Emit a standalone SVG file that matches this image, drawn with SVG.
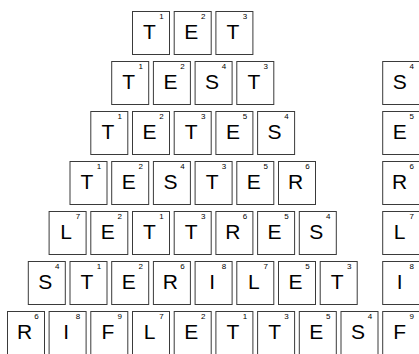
<svg xmlns="http://www.w3.org/2000/svg" width="419" height="354" viewBox="0 0 419 354">
<style>
.t{fill:#fff;stroke:#3a3a3a;stroke-width:1}
.l{font-family:"Liberation Sans",Arial,sans-serif;font-size:21px;fill:#000;text-anchor:middle}
.n{font-family:"Liberation Sans",Arial,sans-serif;font-size:8px;fill:#000;text-anchor:middle}
</style>
<defs>
<rect id="tile" class="t" x="0.5" y="0.5" width="37" height="43"/>
</defs>
<rect width="419" height="354" fill="#fff"/>
<g id="row1">
<use href="#tile" x="132" y="11"/><text class="l" x="149.5" y="39">T</text><text class="n" x="161.5" y="19">1</text>
<use href="#tile" x="173.7" y="11"/><text class="l" x="191.2" y="39">E</text><text class="n" x="203.2" y="19">2</text>
<use href="#tile" x="215.4" y="11"/><text class="l" x="232.9" y="39">T</text><text class="n" x="244.9" y="19">3</text>
</g>
<g id="row2">
<use href="#tile" x="111.2" y="61"/><text class="l" x="128.7" y="89">T</text><text class="n" x="140.7" y="69">1</text>
<use href="#tile" x="152.9" y="61"/><text class="l" x="170.4" y="89">E</text><text class="n" x="182.4" y="69">2</text>
<use href="#tile" x="194.6" y="61"/><text class="l" x="212.1" y="89">S</text><text class="n" x="224.1" y="69">4</text>
<use href="#tile" x="236.3" y="61"/><text class="l" x="253.8" y="89">T</text><text class="n" x="265.8" y="69">3</text>
</g>
<g id="row3">
<use href="#tile" x="90.3" y="111"/><text class="l" x="107.8" y="139">T</text><text class="n" x="119.8" y="119">1</text>
<use href="#tile" x="132" y="111"/><text class="l" x="149.5" y="139">E</text><text class="n" x="161.5" y="119">2</text>
<use href="#tile" x="173.7" y="111"/><text class="l" x="191.2" y="139">T</text><text class="n" x="203.2" y="119">3</text>
<use href="#tile" x="215.4" y="111"/><text class="l" x="232.9" y="139">E</text><text class="n" x="244.9" y="119">5</text>
<use href="#tile" x="257.1" y="111"/><text class="l" x="274.6" y="139">S</text><text class="n" x="286.6" y="119">4</text>
</g>
<g id="row4">
<use href="#tile" x="69.5" y="161"/><text class="l" x="87" y="189">T</text><text class="n" x="99" y="169">1</text>
<use href="#tile" x="111.2" y="161"/><text class="l" x="128.7" y="189">E</text><text class="n" x="140.7" y="169">2</text>
<use href="#tile" x="152.9" y="161"/><text class="l" x="170.4" y="189">S</text><text class="n" x="182.4" y="169">4</text>
<use href="#tile" x="194.6" y="161"/><text class="l" x="212.1" y="189">T</text><text class="n" x="224.1" y="169">3</text>
<use href="#tile" x="236.3" y="161"/><text class="l" x="253.8" y="189">E</text><text class="n" x="265.8" y="169">5</text>
<use href="#tile" x="278" y="161"/><text class="l" x="295.5" y="189">R</text><text class="n" x="307.5" y="169">6</text>
</g>
<g id="row5">
<use href="#tile" x="48.6" y="211"/><text class="l" x="66.1" y="239">L</text><text class="n" x="78.1" y="219">7</text>
<use href="#tile" x="90.3" y="211"/><text class="l" x="107.8" y="239">E</text><text class="n" x="119.8" y="219">2</text>
<use href="#tile" x="132" y="211"/><text class="l" x="149.5" y="239">T</text><text class="n" x="161.5" y="219">1</text>
<use href="#tile" x="173.7" y="211"/><text class="l" x="191.2" y="239">T</text><text class="n" x="203.2" y="219">3</text>
<use href="#tile" x="215.4" y="211"/><text class="l" x="232.9" y="239">R</text><text class="n" x="244.9" y="219">6</text>
<use href="#tile" x="257.1" y="211"/><text class="l" x="274.6" y="239">E</text><text class="n" x="286.6" y="219">5</text>
<use href="#tile" x="298.8" y="211"/><text class="l" x="316.3" y="239">S</text><text class="n" x="328.3" y="219">4</text>
</g>
<g id="row6">
<use href="#tile" x="27.8" y="261"/><text class="l" x="45.3" y="289">S</text><text class="n" x="57.3" y="269">4</text>
<use href="#tile" x="69.5" y="261"/><text class="l" x="87" y="289">T</text><text class="n" x="99" y="269">1</text>
<use href="#tile" x="111.2" y="261"/><text class="l" x="128.7" y="289">E</text><text class="n" x="140.7" y="269">2</text>
<use href="#tile" x="152.9" y="261"/><text class="l" x="170.4" y="289">R</text><text class="n" x="182.4" y="269">6</text>
<use href="#tile" x="194.6" y="261"/><text class="l" x="212.1" y="289">I</text><text class="n" x="224.1" y="269">8</text>
<use href="#tile" x="236.3" y="261"/><text class="l" x="253.8" y="289">L</text><text class="n" x="265.8" y="269">7</text>
<use href="#tile" x="278" y="261"/><text class="l" x="295.5" y="289">E</text><text class="n" x="307.5" y="269">5</text>
<use href="#tile" x="319.7" y="261"/><text class="l" x="337.2" y="289">T</text><text class="n" x="349.2" y="269">3</text>
</g>
<g id="row7">
<use href="#tile" x="7" y="311"/><text class="l" x="24.5" y="339">R</text><text class="n" x="36.5" y="319">6</text>
<use href="#tile" x="48.6" y="311"/><text class="l" x="66.1" y="339">I</text><text class="n" x="78.1" y="319">8</text>
<use href="#tile" x="90.3" y="311"/><text class="l" x="107.8" y="339">F</text><text class="n" x="119.8" y="319">9</text>
<use href="#tile" x="132" y="311"/><text class="l" x="149.5" y="339">L</text><text class="n" x="161.5" y="319">7</text>
<use href="#tile" x="173.7" y="311"/><text class="l" x="191.2" y="339">E</text><text class="n" x="203.2" y="319">2</text>
<use href="#tile" x="215.4" y="311"/><text class="l" x="232.9" y="339">T</text><text class="n" x="244.9" y="319">1</text>
<use href="#tile" x="257.1" y="311"/><text class="l" x="274.6" y="339">T</text><text class="n" x="286.6" y="319">3</text>
<use href="#tile" x="298.8" y="311"/><text class="l" x="316.3" y="339">E</text><text class="n" x="328.3" y="319">5</text>
<use href="#tile" x="340.5" y="311"/><text class="l" x="358" y="339">S</text><text class="n" x="370" y="319">4</text>
</g>
<g id="column">
<use href="#tile" x="382.2" y="61"/><text class="l" x="399.7" y="89">S</text><text class="n" x="411.7" y="69">4</text>
<use href="#tile" x="382.2" y="111"/><text class="l" x="399.7" y="139">E</text><text class="n" x="411.7" y="119">5</text>
<use href="#tile" x="382.2" y="161"/><text class="l" x="399.7" y="189">R</text><text class="n" x="411.7" y="169">6</text>
<use href="#tile" x="382.2" y="211"/><text class="l" x="399.7" y="239">L</text><text class="n" x="411.7" y="219">7</text>
<use href="#tile" x="382.2" y="261"/><text class="l" x="399.7" y="289">I</text><text class="n" x="411.7" y="269">8</text>
<use href="#tile" x="382.2" y="311"/><text class="l" x="399.7" y="339">F</text><text class="n" x="411.7" y="319">9</text>
</g>
</svg>
